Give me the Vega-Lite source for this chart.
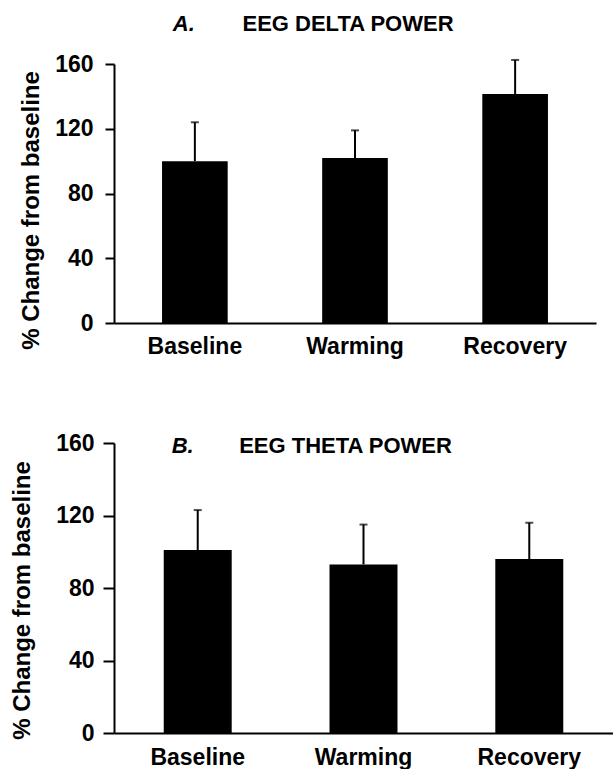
{
  "$schema": "https://vega.github.io/schema/vega-lite/v6.json",
  "background": "white",
  "padding": {"left": 10, "top": 12, "right": 0, "bottom": 0},
  "spacing": 74,
  "config": {
    "view": {"stroke": null},
    "font": "Liberation Sans",
    "axis": {
      "domainColor": "black",
      "domainWidth": 2,
      "tickColor": "black",
      "tickWidth": 2,
      "labelColor": "black",
      "titleColor": "black",
      "labelFont": "Liberation Sans",
      "titleFont": "Liberation Sans",
      "labelFontWeight": "bold",
      "titleFontWeight": "bold",
      "grid": false
    }
  },
  "datasets": {
    "delta": [
      {"condition": "Baseline", "mean": 100, "upper": 124},
      {"condition": "Warming", "mean": 102, "upper": 119},
      {"condition": "Recovery", "mean": 141.5, "upper": 162.5}
    ],
    "theta": [
      {"condition": "Baseline", "mean": 101, "upper": 123},
      {"condition": "Warming", "mean": 93, "upper": 115},
      {"condition": "Recovery", "mean": 96, "upper": 116}
    ]
  },
  "vconcat": [
    {
      "width": 482,
      "height": 259,
      "data": {"name": "delta"},
      "encoding": {
        "x": {
          "field": "condition",
          "type": "nominal",
          "sort": ["Baseline", "Warming", "Recovery"],
          "scale": {"paddingInner": 0.59, "paddingOuter": 0.3},
          "axis": {"title": null, "labelAngle": 0, "ticks": false, "labelPadding": 12, "labelFontSize": 23}
        }
      },
      "layer": [
        {
          "mark": {"type": "bar", "color": "black"},
          "encoding": {
            "y": {
              "field": "mean",
              "type": "quantitative",
              "scale": {"domain": [0, 160], "nice": false},
              "axis": {
                "title": "% Change from baseline",
                "titleFontSize": 24,
                "titlePadding": 11,
                "titleY": 146,
                "values": [0, 20, 40, 60, 80, 100, 120, 140, 160],
                "labelExpr": "datum.value % 40 === 0 ? datum.label : ''",
                "labelFontSize": 23,
                "tickSize": 9,
                "labelPadding": 12
              }
            }
          }
        },
        {
          "mark": {"type": "rule", "color": "black", "strokeWidth": 2},
          "encoding": {"y": {"field": "mean", "type": "quantitative"}, "y2": {"field": "upper"}}
        },
        {
          "mark": {"type": "tick", "color": "black", "size": 8, "thickness": 2},
          "encoding": {"y": {"field": "upper", "type": "quantitative"}}
        },
        {
          "data": {"values": [{"label": "A."}]},
          "mark": {"type": "text", "fontStyle": "italic", "fontWeight": "bold", "fontSize": 22, "baseline": "middle", "dx": -11},
          "encoding": {"x": {"datum": "Baseline"}, "y": {"datum": 185}, "text": {"field": "label"}}
        },
        {
          "data": {"values": [{"label": "EEG DELTA POWER"}]},
          "mark": {"type": "text", "fontWeight": "bold", "fontSize": 22, "baseline": "middle", "dx": -7},
          "encoding": {"x": {"datum": "Warming"}, "y": {"datum": 185}, "text": {"field": "label"}}
        }
      ]
    },
    {
      "width": 499,
      "height": 290,
      "data": {"name": "theta"},
      "encoding": {
        "x": {
          "field": "condition",
          "type": "nominal",
          "sort": ["Baseline", "Warming", "Recovery"],
          "scale": {"paddingInner": 0.59, "paddingOuter": 0.3},
          "axis": {"title": null, "labelAngle": 0, "ticks": false, "labelPadding": 13, "labelFontSize": 23}
        }
      },
      "layer": [
        {
          "mark": {"type": "bar", "color": "black"},
          "encoding": {
            "y": {
              "field": "mean",
              "type": "quantitative",
              "scale": {"domain": [0, 160], "nice": false},
              "axis": {
                "title": "% Change from baseline",
                "titleFontSize": 24,
                "titlePadding": 21,
                "titleY": 157,
                "values": [0, 20, 40, 60, 80, 100, 120, 140, 160],
                "labelExpr": "datum.value % 40 === 0 ? datum.label : ''",
                "labelFontSize": 23,
                "tickSize": 11,
                "labelPadding": 9
              }
            }
          }
        },
        {
          "mark": {"type": "rule", "color": "black", "strokeWidth": 2},
          "encoding": {"y": {"field": "mean", "type": "quantitative"}, "y2": {"field": "upper"}}
        },
        {
          "mark": {"type": "tick", "color": "black", "size": 8, "thickness": 2},
          "encoding": {"y": {"field": "upper", "type": "quantitative"}}
        },
        {
          "data": {"values": [{"label": "B."}]},
          "mark": {"type": "text", "fontStyle": "italic", "fontWeight": "bold", "fontSize": 22, "baseline": "middle", "dx": -15},
          "encoding": {"x": {"datum": "Baseline"}, "y": {"datum": 158.5}, "text": {"field": "label"}}
        },
        {
          "data": {"values": [{"label": "EEG THETA POWER"}]},
          "mark": {"type": "text", "fontWeight": "bold", "fontSize": 22, "baseline": "middle", "dx": -18},
          "encoding": {"x": {"datum": "Warming"}, "y": {"datum": 158.5}, "text": {"field": "label"}}
        }
      ]
    }
  ]
}
